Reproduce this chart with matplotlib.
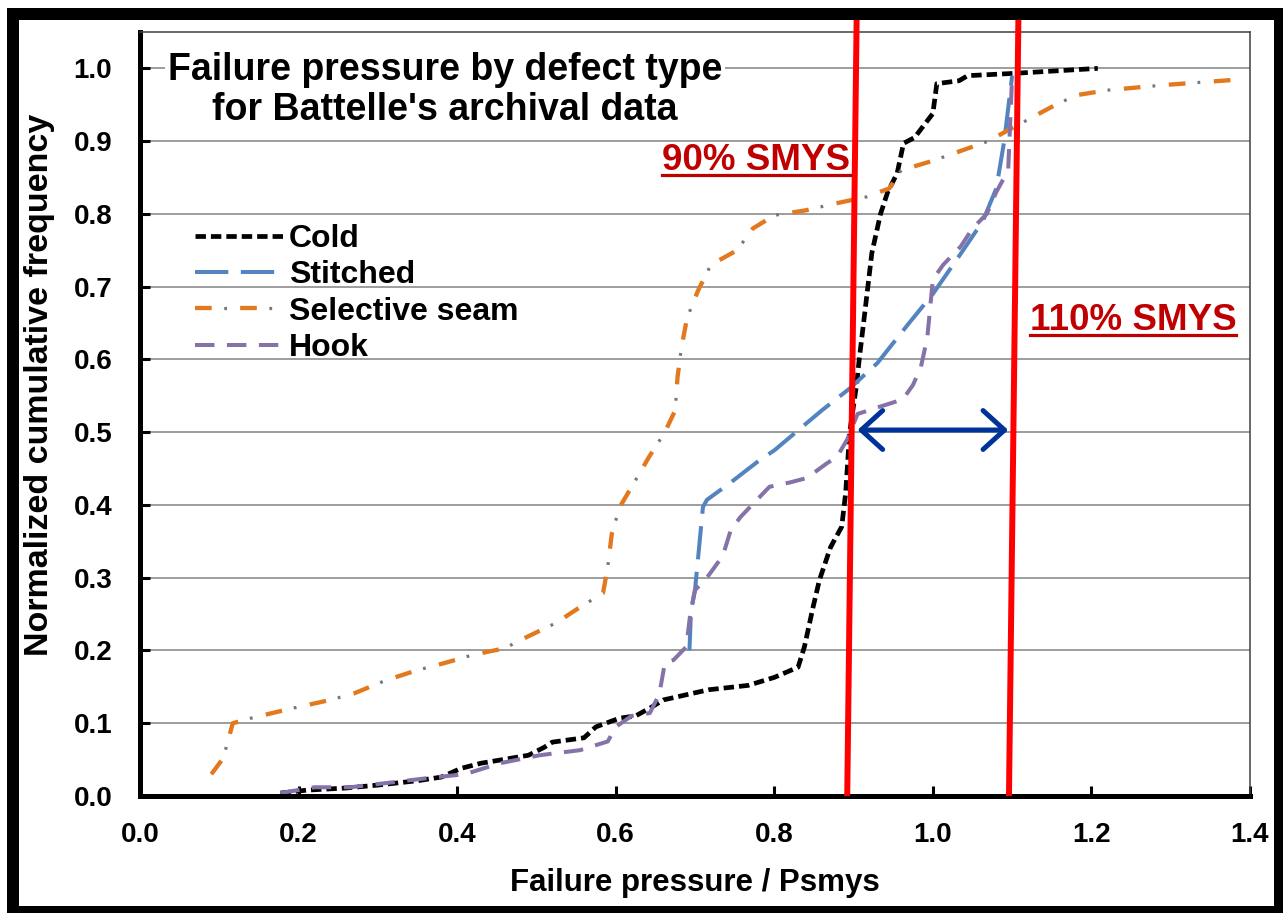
import numpy as np
import matplotlib
matplotlib.use("Agg")
import matplotlib.pyplot as plt
from matplotlib.patches import Rectangle
from matplotlib.lines import Line2D
from matplotlib.legend_handler import HandlerTuple

plt.rcParams['font.family'] = ['Liberation Sans', 'DejaVu Sans']
plt.rcParams['font.weight'] = 'bold'
plt.rcParams['axes.labelweight'] = 'bold'
plt.rcParams['lines.scale_dashes'] = False

# curves (x = failure pressure / Psmys, y = cumulative frequency)
cold_x = [0.177, 0.21, 0.26, 0.30, 0.35, 0.38, 0.405, 0.43, 0.49, 0.51, 0.52, 0.56, 0.575, 0.605,
          0.625, 0.645, 0.66, 0.717, 0.767, 0.80, 0.83, 0.838, 0.849, 0.857, 0.871, 0.885, 0.89,
          0.895, 0.904, 0.907, 0.915, 0.923, 0.934, 0.943, 0.955, 0.963, 0.977, 1.0, 1.005, 1.033,
          1.044, 1.10, 1.208]
cold_y = [0.004, 0.008, 0.011, 0.015, 0.021, 0.026, 0.038, 0.045, 0.056, 0.067, 0.074, 0.08, 0.095,
          0.107, 0.11, 0.122, 0.132, 0.146, 0.152, 0.163, 0.177, 0.205, 0.26, 0.297, 0.342, 0.37,
          0.416, 0.499, 0.567, 0.599, 0.672, 0.746, 0.80, 0.83, 0.856, 0.897, 0.905, 0.938, 0.979,
          0.983, 0.99, 0.993, 1.0]

stitched_x = [0.693, 0.695, 0.70, 0.71, 0.715, 0.744, 0.782, 0.80, 0.86, 0.895, 0.93, 0.97, 1.00,
              1.035, 1.063, 1.08, 1.09, 1.10]
stitched_y = [0.20, 0.255, 0.283, 0.397, 0.407, 0.43, 0.462, 0.475, 0.53, 0.56, 0.595, 0.65, 0.69,
              0.745, 0.79, 0.835, 0.90, 0.99]

seam_x = [0.09, 0.105, 0.117, 0.14, 0.19, 0.24, 0.27, 0.31, 0.35, 0.385, 0.42, 0.46, 0.485, 0.525,
          0.55, 0.584, 0.59, 0.595, 0.605, 0.625, 0.642, 0.662, 0.675, 0.678, 0.683, 0.69, 0.704,
          0.72, 0.753, 0.773, 0.80, 0.84, 0.88, 0.915, 0.945, 0.96, 1.0, 1.07, 1.095, 1.148, 1.18,
          1.22, 1.29, 1.39]
seam_y = [0.03, 0.052, 0.10, 0.107, 0.12, 0.132, 0.141, 0.159, 0.173, 0.183, 0.194, 0.203, 0.217,
          0.238, 0.256, 0.279, 0.315, 0.36, 0.397, 0.434, 0.466, 0.50, 0.53, 0.576, 0.617, 0.657,
          0.695, 0.73, 0.75, 0.78, 0.798, 0.805, 0.815, 0.823, 0.835, 0.86, 0.873, 0.90, 0.915,
          0.946, 0.963, 0.97, 0.977, 0.985]

hook_x = [0.177, 0.22, 0.265, 0.32, 0.366, 0.41, 0.454, 0.504, 0.555, 0.59, 0.60, 0.62, 0.643, 0.655,
          0.662, 0.673, 0.689, 0.694, 0.70, 0.715, 0.735, 0.745, 0.757, 0.778, 0.794, 0.82, 0.841,
          0.866, 0.879, 0.892, 0.905, 0.933, 0.962, 0.975, 0.985, 0.993, 1.0, 1.013, 1.035, 1.05,
          1.068, 1.08, 1.095, 1.10]
hook_y = [0.004, 0.012, 0.012, 0.019, 0.025, 0.03, 0.045, 0.056, 0.063, 0.075, 0.095, 0.11, 0.114,
          0.14, 0.183, 0.187, 0.205, 0.25, 0.283, 0.30, 0.33, 0.365, 0.383, 0.407, 0.425, 0.431,
          0.437, 0.457, 0.466, 0.49, 0.525, 0.535, 0.545, 0.565, 0.59, 0.63, 0.71, 0.73, 0.755,
          0.78, 0.80, 0.83, 0.86, 0.99]

# SMYS limits (red lines are slightly slanted in the original slide)
smys90_x = [0.892, 0.904]
smys110_x = [1.096, 1.108]
red_line_y = [0.0, 1.08]
arrow_y = 0.503

W, H = 1283, 913
fig = plt.figure(figsize=(W / 100, H / 100), dpi=100)
fig.patch.set_facecolor('white')

ax = fig.add_axes([140 / W, (H - 796) / H, 1110 / W, 764 / H])
ax.set_xlim(0, 1.4)
ax.set_ylim(0, 1.05)

# grid
ax.set_yticks(np.arange(0, 1.01, 0.1))
ax.set_xticks(np.arange(0, 1.41, 0.2))
ax.yaxis.grid(True, color='#8c8c8c', lw=1.2)
ax.set_axisbelow(True)
ax.set_yticklabels([f'{v:.1f}' for v in np.arange(0, 1.01, 0.1)])
ax.set_xticklabels([f'{v:.1f}' for v in np.arange(0, 1.41, 0.2)])
ax.tick_params(direction='in', length=7, width=2.2, labelsize=20, pad=19, colors='black')
ax.tick_params(axis='y', pad=20)

for s in ['left', 'bottom']:
    ax.spines[s].set_linewidth(3.6)
    ax.spines[s].set_color('black')
for s in ['top', 'right']:
    ax.spines[s].set_linewidth(1.1)
    ax.spines[s].set_color('#404040')

# series
l_cold, = ax.plot(cold_x, cold_y, color='black', lw=3.4, ls=(0, (7.5, 3.6)), dash_capstyle='butt')
l_st, = ax.plot(stitched_x, stitched_y, color='#5384c0', lw=2.9, ls=(0, (24, 9)))
l_seam, = ax.plot(seam_x, seam_y, color='#e2791e', lw=3.1, ls=(0, (12, 20.5)))
# grey dot sitting in the middle of each gap of the orange dash-dot line
l_dot, = ax.plot(seam_x, seam_y, color='#777777', lw=2.3, ls=(11.8, (2.0, 30.5)))
l_hook, = ax.plot(hook_x, hook_y, color='#8572a8', lw=2.9, ls=(0, (14, 9)))

# title inside the plot
ax.text(0.275, 0.924, "Failure pressure by defect type\nfor Battelle's archival data",
        transform=ax.transAxes, ha='center', va='center', fontsize=27, linespacing=1.15,
        bbox=dict(facecolor='white', edgecolor='none', pad=2), zorder=3)

leg = ax.legend([l_cold, l_st, (l_seam, l_dot), l_hook],
                ['Cold', 'Stitched', 'Selective seam', 'Hook'],
                handler_map={tuple: HandlerTuple(ndivide=1, pad=0)},
                loc='upper left', bbox_to_anchor=(0.0495, 0.749), frameon=False,
                fontsize=23, handlelength=2.8, handletextpad=0.15, labelspacing=0.2,
                borderpad=0, borderaxespad=0)

# red SMYS lines and blue arrow
ax.plot(smys90_x, red_line_y, color='#ff0000', lw=4.3, clip_on=False, zorder=6, solid_capstyle='butt')
ax.plot(smys110_x, red_line_y, color='#ff0000', lw=4.3, clip_on=False, zorder=6, solid_capstyle='butt')
ax.annotate('', xy=(0.905, arrow_y), xytext=(1.095, arrow_y),
            arrowprops=dict(arrowstyle='<->,head_length=0.55,head_width=0.5', color='#003399',
                            lw=3.6, mutation_scale=28, shrinkA=0, shrinkB=0), zorder=7)

t90 = ax.text(0.895, 0.860, '90% SMYS', color='#c00000', fontsize=26.5, ha='right', va='baseline', zorder=7)
t110 = ax.text(1.122, 0.640, '110% SMYS', color='#c00000', fontsize=26.5, ha='left', va='baseline', zorder=7)

ax.set_xlabel('Failure pressure / Psmys', fontsize=22.5)
ax.set_ylabel('Normalized cumulative frequency', fontsize=24.5)
ax.xaxis.set_label_coords(0.5, -0.094)
ax.yaxis.set_label_coords(-0.077, 0.538)

# underline the red labels
fig.canvas.draw()
inv = fig.transFigure.inverted()
for t in (t90, t110):
    bb = t.get_window_extent()
    (x0, y0), (x1, _) = inv.transform([(bb.x0, bb.y0 + 3), (bb.x1, bb.y0 + 3)])
    fig.add_artist(Line2D([x0, x1], [y0, y0], color='#c00000', lw=2.3, transform=fig.transFigure))

# black slide frame around the chart
def band(x0, y0, x1, y1):
    fig.add_artist(Rectangle((x0 / W, 1 - y1 / H), (x1 - x0) / W, (y1 - y0) / H,
                             transform=fig.transFigure, facecolor='black', edgecolor='none'))

band(7, 8, W, 20)
band(7, 8, 19, H)
band(1274, 8, W, H)
band(7, 906, W, H)

fig.savefig('out.png', dpi=100, facecolor='white')
